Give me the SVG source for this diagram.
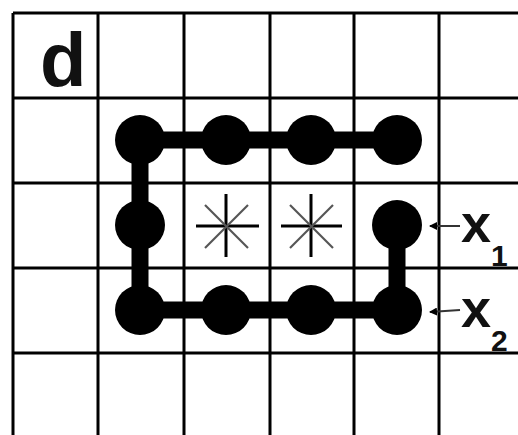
<svg xmlns="http://www.w3.org/2000/svg" width="518" height="435" viewBox="0 0 518 435">
<style>
.grid{stroke:#000;stroke-width:3;fill:none}
.path{stroke:#000;stroke-width:17;fill:none;stroke-linejoin:miter}
.dot{fill:#000}
.ax{stroke:#000;stroke-width:3}
.dg{stroke:#555;stroke-width:2.2}
.lbl{font-family:"Liberation Sans",Arial,sans-serif;fill:#111;font-weight:bold}
.arr{stroke:#333;stroke-width:2;fill:none}
</style>
<defs>
<marker id="ah" markerWidth="8" markerHeight="8" refX="1" refY="4" orient="auto" markerUnits="userSpaceOnUse">
<path d="M8,0 L0,4 L8,8 Z" fill="#000"/>
</marker>
</defs>
<g id="grid">
<path class="grid" d="M13,13H518M13,98H518M13,183H518M13,268H518M13,353H518M13,13V435M98,13V435M184,13V435M270,13V435M354,13V435M439,13V435"/>
</g>
<text class="lbl" x="40" y="86" font-size="76">d</text>
<g id="connectors">
<path class="path" d="M397,140H140V310H397V225"/>
<line class="arr" x1="430" y1="226" x2="460" y2="226" marker-start="url(#ah)"/>
<line class="arr" x1="430" y1="312" x2="460" y2="310" stroke="#666" marker-start="url(#ah)"/>
</g>
<g id="dots">
<circle class="dot" cx="140" cy="140" r="25"/>
<circle class="dot" cx="226" cy="140" r="25"/>
<circle class="dot" cx="311" cy="140" r="25"/>
<circle class="dot" cx="397" cy="140" r="25"/>
<circle class="dot" cx="140" cy="225" r="25"/>
<circle class="dot" cx="397" cy="225" r="25"/>
<circle class="dot" cx="140" cy="310" r="25"/>
<circle class="dot" cx="226" cy="310" r="25"/>
<circle class="dot" cx="311" cy="310" r="25"/>
<circle class="dot" cx="397" cy="310" r="25"/>
</g>
<g id="star1">
<line class="ax" x1="196" y1="226" x2="259" y2="226"/>
<line class="ax" x1="226" y1="194" x2="226" y2="257"/>
<line class="dg" x1="205" y1="205" x2="248" y2="248"/>
<line class="dg" x1="248" y1="205" x2="205" y2="248"/>
</g>
<g id="star2">
<line class="ax" x1="281" y1="226" x2="342" y2="226"/>
<line class="ax" x1="311" y1="194" x2="311" y2="257"/>
<line class="dg" x1="290" y1="205" x2="333" y2="248"/>
<line class="dg" x1="333" y1="205" x2="290" y2="248"/>
</g>
<g id="x1">
<text class="lbl" x="461" y="242" font-size="54">x</text>
<text class="lbl" x="491" y="266" font-size="30">1</text>
</g>
<g id="x2">
<text class="lbl" x="461" y="327" font-size="54">x</text>
<text class="lbl" x="491" y="351" font-size="30">2</text>
</g>
</svg>
